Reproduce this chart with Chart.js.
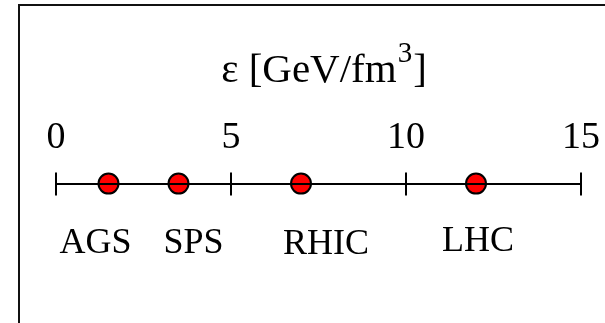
<!DOCTYPE html>
<html>
<head>
  <title>Energy density</title>
  <style>
    body {
      margin: 0;
      background-color: #ffffff;
      overflow: hidden;
    }

    .frame {
      position: absolute;
      left: 18px;
      top: 4px;
      width: 700px;
      height: 400px;
      border-left: 2px solid #111;
      border-top: 2px solid #111;
    }

    #chart {
      position: absolute;
      left: 0;
      top: 0;
    }
  </style>
</head>
<body>
  <div class="frame"></div>
  <canvas id="chart" width="605" height="323"></canvas>

  <script src="https://cdn.jsdelivr.net/npm/chart.js"></script>
  <script>
    // colliders and their energy density (GeV/fm^3)
    var machines = ['AGS', 'SPS', 'RHIC', 'LHC'];
    var energyDensity = [1.5, 3.5, 7, 12];
    var tickValues = [0, 5, 10, 15];

    var serif = 'Liberation Serif';

    // title with a raised "3"
    var titlePlugin = {
      id: 'unitTitle',
      afterDraw: function (chart) {
        var ctx = chart.ctx;
        var main = 'ε [GeV/fm';
        var sup = '3';
        var end = ']';
        ctx.save();
        ctx.fillStyle = '#000';
        ctx.textBaseline = 'alphabetic';
        ctx.font = '41px ' + serif;
        var w1 = ctx.measureText(main).width;
        var w3 = ctx.measureText(end).width;
        ctx.font = '29px ' + serif;
        var w2 = ctx.measureText(sup).width;
        var x = 323 - (w1 + w2 + w3) / 2;
        var y = 82;
        ctx.font = '41px ' + serif;
        ctx.fillText(main, x, y);
        ctx.font = '29px ' + serif;
        ctx.fillText(sup, x + w1 + 1, y - 20);
        ctx.font = '41px ' + serif;
        ctx.fillText(end, x + w1 + w2 + 2, y);
        ctx.restore();
      }
    };

    // tick marks continue below the axis line
    var lowerTicks = {
      id: 'lowerTicks',
      afterDraw: function (chart, args, opts) {
        var ctx = chart.ctx;
        var xs = chart.scales.x;
        var y0 = chart.chartArea.top;
        ctx.save();
        ctx.strokeStyle = '#000';
        ctx.lineWidth = 2;
        tickValues.forEach(function (v) {
          var px = Math.round(xs.getPixelForValue(v));
          ctx.beginPath();
          ctx.moveTo(px, y0);
          ctx.lineTo(px, y0 + opts.length);
          ctx.stroke();
        });
        ctx.restore();
      }
    };

    // machine names under each point
    var namePlugin = {
      id: 'machineNames',
      afterDraw: function (chart, args, opts) {
        var ctx = chart.ctx;
        var meta = chart.getDatasetMeta(0);
        ctx.save();
        ctx.fillStyle = '#000';
        ctx.font = opts.size + 'px ' + serif;
        ctx.textAlign = 'center';
        ctx.textBaseline = 'alphabetic';
        meta.data.forEach(function (pt, i) {
          ctx.fillText(machines[i], pt.x + opts.shiftX[i], pt.y + opts.drop + opts.shiftY[i]);
        });
        ctx.restore();
      }
    };

    var chart = new Chart(document.getElementById('chart'), {
      type: 'scatter',
      data: {
        datasets: [{
          data: energyDensity.map(function (v) { return { x: v, y: 1 }; }),
          pointRadius: 10,
          pointHoverRadius: 10,
          pointBackgroundColor: '#ff0000',
          pointBorderColor: '#000000',
          pointBorderWidth: 2,
          clip: false
        }]
      },
      options: {
        responsive: false,
        animation: false,
        events: [],
        layout: {
          padding: { top: 103, bottom: 10, left: 56, right: 24 }
        },
        plugins: {
          legend: { display: false },
          tooltip: { enabled: false },
          lowerTicks: { length: 12 },
          machineNames: {
            size: 36,
            drop: 69,
            shiftX: [-13, 15, 25, 2],
            shiftY: [0, 0, 1, -2]
          }
        },
        scales: {
          x: {
            type: 'linear',
            position: 'top',
            min: 0,
            max: 15,
            afterBuildTicks: function (scale) {
              scale.ticks = tickValues.map(function (v) { return { value: v }; });
            },
            // end labels may hang past the axis ends
            afterFit: function (scale) {
              scale.paddingLeft = 0;
              scale.paddingRight = 0;
            },
            ticks: {
              color: '#000',
              padding: 12,
              maxRotation: 0,
              font: { family: serif, size: 38 }
            },
            grid: {
              color: '#000',
              lineWidth: 2,
              tickLength: 11,
              drawOnChartArea: false
            },
            border: { display: true, color: '#000', width: 2, z: 1 }
          },
          y: {
            display: false,
            min: 0,
            max: 1
          }
        }
      },
      plugins: [titlePlugin, lowerTicks, namePlugin]
    });
  </script>
</body>
</html>
